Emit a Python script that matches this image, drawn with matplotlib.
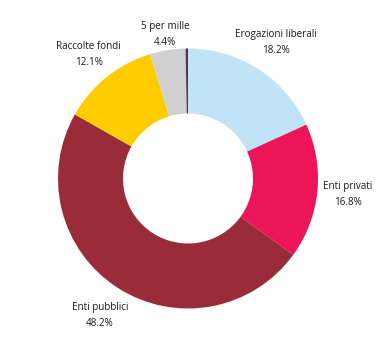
import matplotlib
matplotlib.use("Agg")
import matplotlib.pyplot as plt
import numpy as np

plt.rcParams['font.family'] = ['Open Sans', 'DejaVu Sans']

# Fonti di finanziamento (percentuali)
categorie = ["Erogazioni liberali", "Enti privati", "Enti pubblici",
             "Raccolte fondi", "5 per mille", "Altro"]
valori = [18.2, 16.8, 48.2, 12.1, 4.4, 0.3]
etichette = ["18.2%", "16.8%", "48.2%", "12.1%", "4.4%", None]
colori = ["#c0e3f5", "#ed1459", "#9a2b38", "#ffcc00", "#d0d0d0", "#5b2d5e"]
dist_etichette = [1.245, 1.235, 1.25, 1.22, 1.12, None]

fig = plt.figure(figsize=(3.85, 3.45), dpi=100)
ax = fig.add_axes([0, 0, 1, 1])

wedges, _ = ax.pie(valori, colors=colori, startangle=90, counterclock=False,
                   radius=1.0, wedgeprops=dict(width=0.5, linewidth=0),
                   center=(0, 0), frame=True)
ax.set_xlim(-188 / 130, 197 / 130)
ax.set_ylim(-166.5 / 130, 178.5 / 130)
ax.set_aspect("auto")
ax.axis("off")

for w, nome, et, d in zip(wedges, categorie, etichette, dist_etichette):
    if et is None:
        continue
    ang = np.deg2rad((w.theta1 + w.theta2) / 2)
    x, y = d * np.cos(ang), d * np.sin(ang)
    ax.text(x, y, f"{nome}\n{et}", ha="center", va="center",
            fontsize=7.1, color="#1a1a1a", linespacing=1.6)

fig.savefig("out.png", dpi=100, facecolor="white")
